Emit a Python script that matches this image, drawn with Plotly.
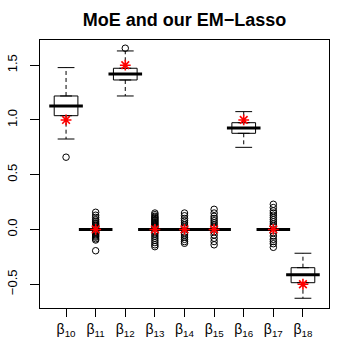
import plotly.graph_objects as go

# coefficient labels and box statistics
labels = ["β<sub>10</sub>", "β<sub>11</sub>", "β<sub>12</sub>", "β<sub>13</sub>", "β<sub>14</sub>",
          "β<sub>15</sub>", "β<sub>16</sub>", "β<sub>17</sub>", "β<sub>18</sub>"]
pos = [1, 2, 3, 4, 5, 6, 7, 8, 9]

lower = [0.826, 0, 1.219, 0, 0, 0, 0.750, 0, -0.628]
q1 = [1.039, 0, 1.365, 0, 0, 0, 0.878, 0, -0.486]
median = [1.128, 0, 1.420, 0, 0, 0, 0.927, 0, -0.413]
q3 = [1.219, 0, 1.472, 0, 0, 0, 0.975, 0, -0.349]
upper = [1.478, 0, 1.630, 0, 0, 0, 1.076, 0, -0.217]

true_vals = [1.0, 0, 1.5, 0, 0, 0, 1.0, 0, -0.5]

outliers = [
    [0.66],
    [0.157, 0.13, 0.11, 0.09, 0.075, 0.06, 0.05, 0.04, 0.03, 0.02, 0.01, -0.01, -0.02,
     -0.03, -0.04, -0.05, -0.06, -0.07, -0.085, -0.096, -0.194],
    [1.655],
    [0.15, 0.135, 0.12, 0.11, 0.10, 0.09, 0.08, 0.07, 0.06, 0.05, 0.04, 0.03, 0.02,
     -0.02, -0.04, -0.06, -0.08, -0.10, -0.12, -0.14, -0.157],
    [0.15, 0.125, 0.10, 0.08, 0.06, 0.04, 0.02, -0.03, -0.05, -0.07, -0.09, -0.11, -0.126],
    [0.184, 0.15, 0.12, 0.10, 0.08, 0.06, 0.04, 0.02, -0.02, -0.05, -0.08, -0.11, -0.14],
    [],
    [0.23, 0.20, 0.17, 0.15, 0.13, 0.11, 0.09, 0.07, 0.05, 0.03, -0.03, -0.06, -0.09,
     -0.11, -0.13, -0.163],
    [],
]

yticks = [-0.5, 0.0, 0.5, 1.0, 1.5]
yticktext = ["−0.5", "0.0", "0.5", "1.0", "1.5"]

fig = go.Figure()

# boxes (whiskers drawn separately so they can be dashed)
fig.add_trace(go.Box(
    x=pos, q1=q1, median=median, q3=q3, lowerfence=q1, upperfence=q3,
    width=0.8, fillcolor="white", line=dict(color="black", width=1),
    hoverinfo="skip", showlegend=False
))

# dashed whiskers
wx, wy = [], []
for i in range(len(pos)):
    wx += [pos[i], pos[i], None, pos[i], pos[i], None]
    wy += [q1[i], lower[i], None, q3[i], upper[i], None]
fig.add_trace(go.Scatter(x=wx, y=wy, mode="lines",
                         line=dict(color="black", width=1, dash="4px,3px"),
                         showlegend=False, hoverinfo="skip"))

# whisker staples
fig.add_trace(go.Scatter(
    x=pos + pos, y=lower + upper, mode="markers",
    marker=dict(symbol="line-ew", size=12, line=dict(color="black", width=1)),
    showlegend=False, hoverinfo="skip"))

# thick medians
fig.add_trace(go.Scatter(
    x=pos, y=median, mode="markers",
    marker=dict(symbol="line-ew", size=24, line=dict(color="black", width=3)),
    showlegend=False, hoverinfo="skip"))

# outliers
ox, oy = [], []
for i, vals in enumerate(outliers):
    ox += [pos[i]] * len(vals)
    oy += vals
fig.add_trace(go.Scatter(
    x=ox, y=oy, mode="markers",
    marker=dict(symbol="circle-open", size=6.5, color="black", line=dict(width=1)),
    showlegend=False, hoverinfo="skip"))

# true values
fig.add_trace(go.Scatter(
    x=pos, y=true_vals, mode="markers",
    marker=dict(symbol="asterisk-open", size=9, color="red", line=dict(color="red", width=1.6)),
    showlegend=False, hoverinfo="skip"))

fig.update_layout(
    width=349, height=349,
    margin=dict(l=40, r=20, t=40, b=41),
    paper_bgcolor="white", plot_bgcolor="white",
    font=dict(family="Liberation Sans, Arial, sans-serif", size=12, color="black"),
    title=dict(text="<b>MoE and our EM−Lasso</b>", x=0.5, xanchor="center", xref="paper",
               y=1 - 20 / 349, yanchor="middle", yref="container",
               font=dict(size=18, color="black")),
    boxmode="overlay",
    xaxis=dict(range=[0.12, 9.88], tickmode="array", tickvals=pos, ticktext=labels,
               showgrid=False, zeroline=False, showline=True, mirror=True, automargin=False,
               linecolor="black", linewidth=1, ticks="outside", ticklen=8,
               tickcolor="black", tickfont=dict(size=14)),
    yaxis=dict(range=[-0.717, 1.73], tickmode="array", tickvals=yticks, ticktext=yticktext,
               tickangle=-90, showgrid=False, zeroline=False, showline=True, mirror=True,
               automargin=False,
               linecolor="black", linewidth=1, ticks="outside", ticklen=9,
               tickcolor="black", ticklabelstandoff=8, tickfont=dict(size=13)),
)

# drop the browser's default body margin so the figure sits at the page corner
fig.write_html("out.html", config={"displayModeBar": False},
               post_script="document.body.style.margin='0';")
